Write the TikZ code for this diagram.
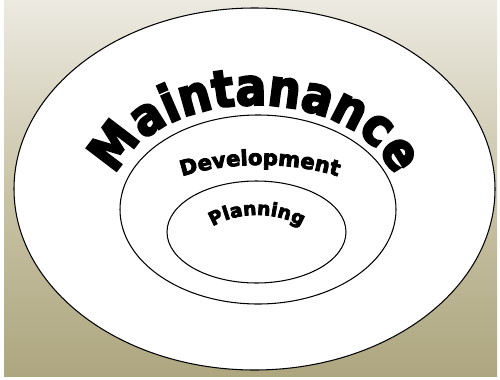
\documentclass[tikz,border=0pt]{standalone}
\usepackage{fontspec}
\usepackage{tikz}
\usetikzlibrary{decorations.text}
\newfontfamily\archfont[FakeBold=4]{DejaVu Sans Bold}
\newfontfamily\archwide[FakeBold=4, FakeStretch=0.88]{DejaVu Sans Bold}

\definecolor{bgtop}{HTML}{FBFBF9}
\definecolor{bghigh}{HTML}{EBE8DF}
\definecolor{bgmid}{HTML}{CAC4A8}
\definecolor{bglow}{HTML}{ABA47C}
\definecolor{bgbot}{HTML}{958A57}
\pgfdeclareverticalshading{bgfade}{100bp}{color(0bp)=(bgbot); color(23bp)=(bglow); color(50bp)=(bgmid); color(74bp)=(bghigh); color(90bp)=(bgtop); color(100bp)=(bgtop)}

\begin{document}
\begin{tikzpicture}[
      x=0.03cm, y=0.03cm,
      ring/.style={draw=black, line width=0.9pt, fill=white},
      arched/.style={decorate, decoration={text along path, text align=center, text={#1}}}
    ]
    \useasboundingbox (0,0) rectangle (500,379);
    % Background
    \shade[shading=bgfade] (4,3) rectangle (497,379);

    % Rings
    \draw[ring] (254.5,190) ellipse[x radius=240.5, y radius=181];
    \draw[ring] (258,169.5) ellipse[x radius=138, y radius=94.5];
    \draw[ring] (256.5,147) ellipse[x radius=89.5, y radius=51];

    % Labels
    \path[arched={|\archwide\fontsize{44}{46}\selectfont|Maintanance}]
      (255,182) ++(175:142 and 92) arc[start angle=175, end angle=5, x radius=142, y radius=92];
    \path[arched={|\archfont\fontsize{18}{20}\selectfont|Development}]
      (260,154) ++(150:133 and 60) arc[start angle=150, end angle=30, x radius=133, y radius=60];
    \path[arched={|\archfont\fontsize{16}{18}\selectfont|Planning}]
      (257,124) ++(150:63 and 40) arc[start angle=150, end angle=30, x radius=63, y radius=40];
  \end{tikzpicture}
\end{document}
